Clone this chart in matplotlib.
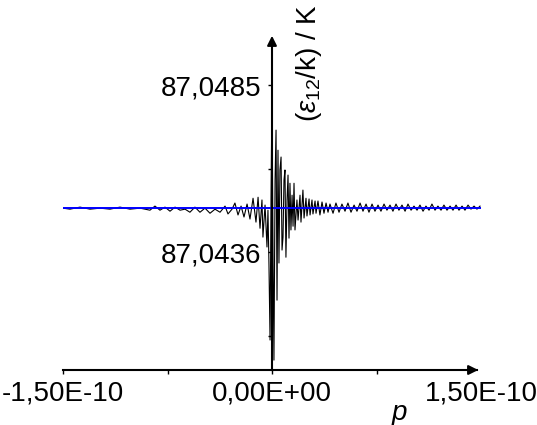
import matplotlib
matplotlib.use("Agg")
import matplotlib.pyplot as plt
import numpy as np

plt.rcParams["font.family"] = ["Liberation Sans", "DejaVu Sans"]
plt.rcParams["mathtext.fontset"] = "custom"
plt.rcParams["mathtext.rm"] = "Liberation Sans"
plt.rcParams["mathtext.it"] = "Liberation Sans:italic"

# p in units of 1e-12, eps12/k stored as 87.04 K + d * 1e-5 K
p_pm = [-150.0, -145.0, -137.8, -130.6, -123.4, -116.3, -109.1, -101.9, -94.7, -87.6,
        -84.0, -80.4, -76.8, -73.2, -69.6, -66.0, -62.4, -58.9, -55.3, -51.7,
        -48.1, -44.5, -40.9, -37.3, -33.7, -31.6, -28.7, -26.6, -24.4, -22.2,
        -20.1, -17.9, -15.8, -13.6, -11.5, -10.0, -8.6, -7.2, -6.5, -5.0,
        -3.6, -2.9, -2.2, -1.4, -0.7, 0.0, 0.7, 1.4, 2.2, 2.9,
        3.6, 4.3, 5.0, 5.7, 6.5, 7.2, 7.9, 8.6, 9.3, 10.0,
        10.8, 11.5, 12.2, 12.9, 13.6, 14.4, 15.1, 15.8, 16.5, 17.9,
        18.7, 20.1, 20.8, 22.2, 23.0, 24.4, 25.1, 26.6, 27.3, 28.7,
        29.4, 30.9, 31.6, 33.0, 34.4, 35.9, 37.3, 38.8, 40.2, 41.6,
        43.8, 45.9, 48.1, 50.2, 52.4, 54.5, 56.7, 58.9, 61.0, 63.2,
        65.3, 67.5, 69.6, 71.8, 73.9, 76.1, 78.2, 80.4, 82.5, 84.7,
        86.8, 89.0, 91.1, 93.3, 95.5, 97.6, 99.8, 101.9, 104.1, 106.2,
        108.4, 110.5, 112.7, 114.8, 117.0, 119.1, 121.3, 123.4, 125.6, 127.8,
        129.9, 132.1, 134.2, 136.4, 138.5, 140.7, 142.8, 145.0, 147.1, 149.3]
eps_d = [489, 486, 492, 486, 489, 486, 492, 486, 489, 483,
         495, 483, 492, 480, 492, 483, 486, 477, 492, 477,
         489, 474, 486, 477, 495, 472, 486, 504, 469, 495,
         463, 501, 457, 518, 448, 521, 430, 513, 404, 498,
         375, 483, 328, 102, 513, 827, 366, 43, 571, 718,
         219, 659, 328, 601, 639, 366, 404, 571, 601, 345,
         513, 586, 401, 562, 425, 527, 436, 562, 425, 513,
         454, 527, 448, 542, 460, 518, 466, 516, 469, 513,
         472, 510, 474, 510, 469, 507, 474, 504, 477, 501,
         474, 504, 477, 501, 480, 504, 477, 498, 480, 504,
         480, 501, 477, 501, 480, 498, 480, 501, 483, 498,
         480, 501, 483, 498, 480, 501, 483, 495, 483, 498,
         480, 495, 483, 501, 483, 495, 483, 498, 483, 495,
         483, 498, 483, 495, 483, 498, 486, 495, 486, 495]

mean_p = [-150.0, 150.0]
mean_d = [489, 489]

y_ticks = [87.0485, 87.04605, 87.0436, 87.04115]
y_labels = ["87,0485", "", "87,0436", ""]
x_ticks = [-1.5e-10, -0.75e-10, 0.0, 0.75e-10]
x_labels = ["-1,50E-10", "", "0,00E+00", ""]

p = np.array(p_pm) * 1e-12
eps = 87.04 + np.array(eps_d) * 1e-5

FS = 20
TICK_LEN, TICK_PAD = 3.0, 4.5

fig = plt.figure(figsize=(5.37, 4.25), dpi=100)
ax = fig.add_axes([63 / 537, 55 / 425, 418 / 537, 337 / 425])
ax.plot(p, eps, color="black", lw=0.8)
ax.plot(np.array(mean_p) * 1e-12, 87.04 + np.array(mean_d) * 1e-5, color="#0000ff", lw=1.4)

ax.set_xlim(-1.5e-10, 1.5e-10)
ax.set_ylim(87.04014, 87.05003)
for s in ("top", "right"):
    ax.spines[s].set_visible(False)
ax.spines["left"].set_position(("data", 0))
ax.spines["left"].set_linewidth(1.5)
ax.spines["bottom"].set_linewidth(1.5)
ax.spines["left"].set_bounds(87.04014, 87.0497)
ax.spines["bottom"].set_bounds(-1.5e-10, 1.47e-10)

ax.set_yticks(y_ticks, y_labels, fontsize=FS)
ax.set_xticks(x_ticks, x_labels, fontsize=FS)
ax.tick_params(axis="both", direction="out", length=TICK_LEN, width=1.0)
ax.tick_params(axis="x", pad=TICK_PAD)
ax.tick_params(axis="y", pad=5)
ax.annotate("1,50E-10", xy=(1.5e-10, 0), xycoords=ax.get_xaxis_transform(),
            xytext=(0, -(TICK_LEN + TICK_PAD)), textcoords="offset points",
            ha="center", va="top", fontsize=FS, annotation_clip=False)

# arrow heads
ax.annotate("", xy=(1.0, 0.0), xytext=(0.96, 0.0), xycoords="axes fraction",
            arrowprops=dict(arrowstyle="-|>", color="black", lw=1.5, mutation_scale=14),
            annotation_clip=False)
ax.annotate("", xy=(0.0, 1.0), xytext=(0.0, 0.95),
            xycoords=("data", "axes fraction"),
            arrowprops=dict(arrowstyle="-|>", color="black", lw=1.5, mutation_scale=14),
            annotation_clip=False)

fig.text(309 / 537, 1 - 122 / 425, r"($\it{\varepsilon}_{12}$/k) / K", rotation=90,
         ha="center", va="bottom", fontsize=FS)
fig.text(399 / 537, 5 / 425, "p", style="italic", ha="center", va="baseline", fontsize=FS)

fig.savefig("out.png", dpi=100)
